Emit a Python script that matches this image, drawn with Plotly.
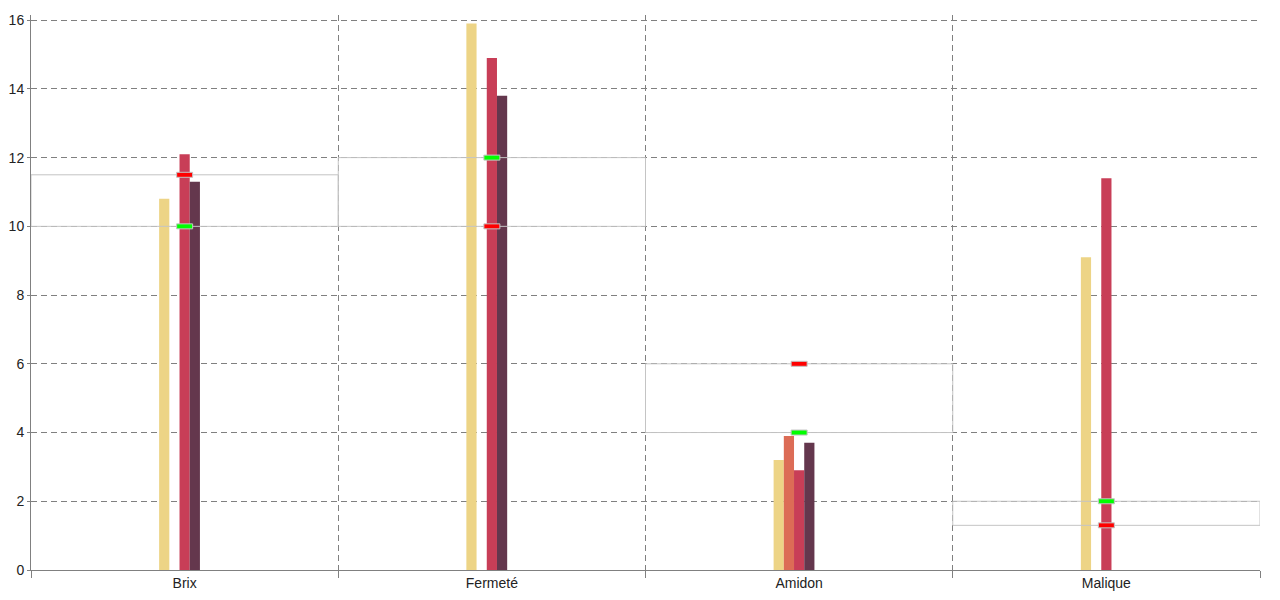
import plotly.graph_objects as go

categories = ["Brix", "Fermeté", "Amidon", "Malique"]
serie_jaune = [10.8, 15.9, 3.2, 9.1]
serie_orange = [0, 0, 3.9, 0]
serie_rouge = [12.1, 14.9, 2.9, 11.4]
serie_violet = [11.3, 13.8, 3.7, 0]
serie_sarcelle = [0, 0, 0, 0]
seuil_vert = [10, 12, 4, 2]
seuil_rouge = [11.5, 10, 6, 1.3]

series = [
    ("Série 1", serie_jaune, "#EDD486"),
    ("Série 2", serie_orange, "#DC6C56"),
    ("Série 3", serie_rouge, "#C83E57"),
    ("Série 4", serie_violet, "#64374D"),
    ("Série 5", serie_sarcelle, "#5E8E8E"),
]

fig = go.Figure()
for name, vals, col in series:
    fig.add_trace(go.Bar(x=categories, y=vals, name=name, marker_color=col,
                         marker_line_width=0, showlegend=False))

shapes = []
# box between thresholds for each category
for i, (a, b) in enumerate(zip(seuil_vert, seuil_rouge)):
    shapes.append(dict(type="rect", xref="x", yref="y", x0=i - 0.5, x1=i + 0.5,
                       y0=min(a, b), y1=max(a, b),
                       line=dict(color="#C4C4C4", width=1), fillcolor="rgba(0,0,0,0)",
                       layer="above"))

# threshold markers
for vals, col in [(seuil_vert, "#00FF00"), (seuil_rouge, "#FF0000")]:
    for i, v in enumerate(vals):
        shapes.append(dict(type="rect", xref="x", yref="y",
                           xsizemode="pixel", xanchor=i, x0=-8, x1=8,
                           ysizemode="pixel", yanchor=v, y0=-2.5, y1=2.5,
                           fillcolor=col, line=dict(color="#C4C4C4", width=1),
                           layer="above"))

fig.update_layout(
    width=1280, height=600,
    margin=dict(l=23, r=28, t=7, b=38),
    plot_bgcolor="white", paper_bgcolor="white",
    barmode="group", bargap=0.834, bargroupgap=0,
    shapes=shapes,
    font=dict(family="Liberation Sans, Arial, sans-serif", size=14, color="#222222"),
)
fig.update_xaxes(
    type="category", range=[-0.5, 3.5], tickson="boundaries", automargin=False,
    showgrid=True, gridcolor="#808080", griddash="6px,4px", gridwidth=1,
    showline=True, linecolor="#808080", linewidth=1,
    ticks="outside", ticklen=7, tickcolor="#808080", zeroline=False,
)
fig.update_yaxes(
    range=[0, 16.15], dtick=2, tick0=0, automargin=False,
    showgrid=True, gridcolor="#808080", griddash="6px,4px", gridwidth=1,
    showline=True, linecolor="#808080", linewidth=1,
    ticks="outside", ticklen=3, tickcolor="#808080",
    zeroline=True, zerolinecolor="#808080", zerolinewidth=1,
)

fig.write_html("out.html")
